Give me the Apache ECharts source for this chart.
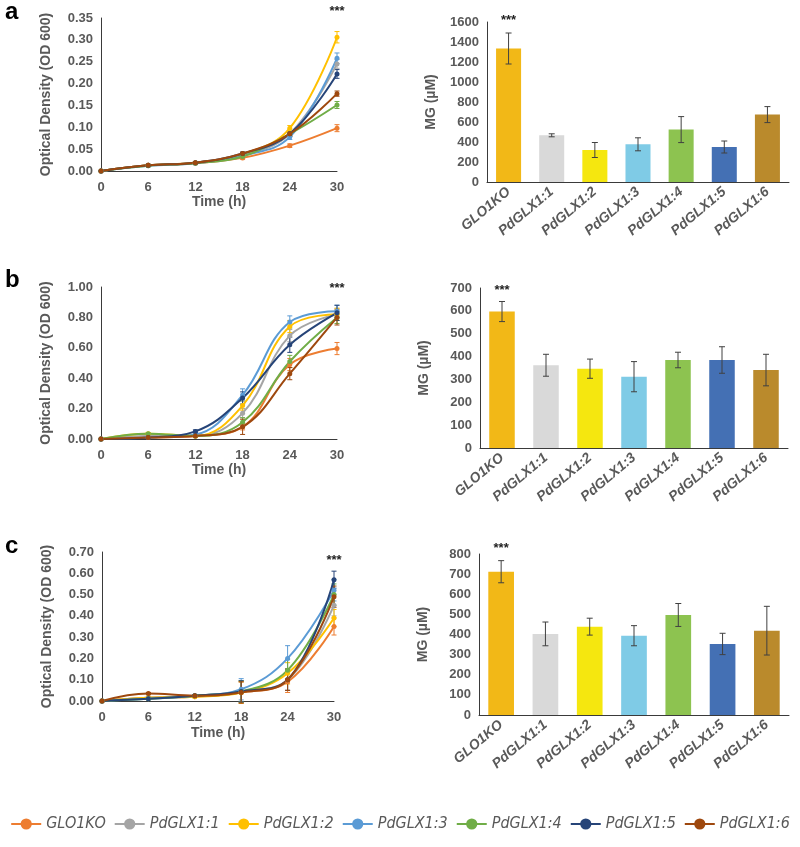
<!DOCTYPE html>
<html>
<head>
<meta charset="utf-8">
<script src="https://cdn.jsdelivr.net/npm/echarts@6/dist/echarts.min.js"></script>
<style>
  html, body { margin: 0; padding: 0; background: #fff; }
  #chart { width: 800px; height: 847px; }
</style>
</head>
<body>
<div id="chart"></div>
<script>
// x 轴时间点与菌株名
const timeLabels = ['0', '6', '12', '18', '24', '30'];
const strains = ['GLO1KO', 'PdGLX1:1', 'PdGLX1:2', 'PdGLX1:3', 'PdGLX1:4', 'PdGLX1:5', 'PdGLX1:6'];

const lineColors = ['#ED7D31', '#A5A5A5', '#FFC000', '#5B9BD5', '#70AD47', '#264478', '#9E480E'];
const barColors = ['#F2B817', '#D9D9D9', '#F5E70F', '#7FCBE6', '#8DC350', '#4470B4', '#BA8A2C'];

// panel a - OD600 (每行一个菌株)
const odA = [
  [0, 0.013, 0.018, 0.030, 0.058, 0.098],
  [0, 0.013, 0.019, 0.036, 0.085, 0.245],
  [0, 0.013, 0.019, 0.038, 0.098, 0.306],
  [0, 0.012, 0.018, 0.035, 0.078, 0.258],
  [0, 0.012, 0.018, 0.033, 0.085, 0.151],
  [0, 0.013, 0.019, 0.040, 0.085, 0.222],
  [0, 0.013, 0.019, 0.040, 0.085, 0.177],
];
const odAErr = [
  [0, 0.002, 0.002, 0.003, 0.004, 0.008],
  [0, 0.002, 0.002, 0.003, 0.005, 0.010],
  [0, 0.002, 0.002, 0.003, 0.006, 0.013],
  [0, 0.002, 0.002, 0.003, 0.006, 0.012],
  [0, 0.002, 0.002, 0.003, 0.005, 0.008],
  [0, 0.002, 0.002, 0.003, 0.005, 0.010],
  [0, 0.002, 0.002, 0.003, 0.005, 0.006],
];

// panel b
const odB = [
  [0, 0.010, 0.020, 0.080, 0.490, 0.595],
  [0, 0.020, 0.020, 0.170, 0.680, 0.820],
  [0, 0.035, 0.020, 0.220, 0.740, 0.820],
  [0, 0.010, 0.030, 0.290, 0.770, 0.840],
  [0, 0.035, 0.020, 0.110, 0.510, 0.800],
  [0, 0.010, 0.050, 0.270, 0.620, 0.830],
  [0, 0.010, 0.020, 0.080, 0.430, 0.800],
];
const odBErr = [
  [0, 0.005, 0.005, 0.020, 0.040, 0.040],
  [0, 0.005, 0.005, 0.030, 0.040, 0.040],
  [0, 0.005, 0.005, 0.030, 0.040, 0.040],
  [0, 0.005, 0.010, 0.040, 0.040, 0.040],
  [0, 0.005, 0.005, 0.030, 0.040, 0.040],
  [0, 0.005, 0.010, 0.040, 0.050, 0.050],
  [0, 0.005, 0.005, 0.050, 0.040, 0.050],
];

// panel c
const odC = [
  [0, 0.015, 0.020, 0.040, 0.090, 0.350],
  [0, 0.015, 0.025, 0.045, 0.100, 0.450],
  [0, 0.015, 0.020, 0.040, 0.130, 0.390],
  [0, 0.010, 0.025, 0.055, 0.200, 0.520],
  [0, 0.010, 0.025, 0.045, 0.145, 0.500],
  [0, 0.010, 0.025, 0.045, 0.100, 0.570],
  [0, 0.035, 0.025, 0.040, 0.100, 0.490],
];
const odCErr = [
  [0, 0.003, 0.003, 0.050, 0.050, 0.040],
  [0, 0.003, 0.003, 0.050, 0.050, 0.050],
  [0, 0.003, 0.003, 0.050, 0.050, 0.040],
  [0, 0.003, 0.003, 0.050, 0.060, 0.050],
  [0, 0.003, 0.003, 0.050, 0.050, 0.050],
  [0, 0.003, 0.003, 0.050, 0.050, 0.040],
  [0, 0.005, 0.003, 0.050, 0.050, 0.050],
];

// MG 浓度 (µM)
const mgA = [1335, 467, 320, 377, 524, 350, 674];
const mgAErr = [155, 15, 75, 65, 130, 60, 80];
const mgB = [597, 362, 347, 312, 385, 385, 341];
const mgBErr = [44, 48, 42, 66, 34, 58, 69];
const mgC = [712, 403, 439, 394, 497, 353, 419];
const mgCErr = [55, 59, 42, 50, 57, 53, 121];

const grey = '#595959';
const axisColor = '#3a3a3a';
const font = 'Arial, "Liberation Sans", sans-serif';

// 误差线
function errRender(capW, color, lw) {
  return (params, api) => {
    const x = api.value(0), y = api.value(1), e = api.value(2);
    if (!e) return null;
    const hi = api.coord([x, y + e]);
    const lo = api.coord([x, y - e]);
    const st = { stroke: color, lineWidth: lw };
    return {
      type: 'group',
      children: [
        { type: 'line', shape: { x1: hi[0], y1: hi[1], x2: lo[0], y2: lo[1] }, style: st },
        { type: 'line', shape: { x1: hi[0] - capW, y1: hi[1], x2: hi[0] + capW, y2: hi[1] }, style: st },
        { type: 'line', shape: { x1: lo[0] - capW, y1: lo[1], x2: lo[0] + capW, y2: lo[1] }, style: st },
      ],
    };
  };
}

// star: [类别索引, y 值] 位置的 *** 标注
const linePanels = [
  { grid: 0, data: odA, err: odAErr, max: 0.35, interval: 0.05, star: [5, 0.364], nameGap: 24 },
  { grid: 2, data: odB, err: odBErr, max: 1.0, interval: 0.2, star: [5, 0.99], nameGap: 23 },
  { grid: 4, data: odC, err: odCErr, max: 0.7, interval: 0.1, star: [5, 0.66], nameGap: 25 },
];
const barPanels = [
  { grid: 1, data: mgA, err: mgAErr, max: 1600, interval: 200, star: [0, 1620] },
  { grid: 3, data: mgB, err: mgBErr, max: 700, interval: 100, star: [0, 688] },
  { grid: 5, data: mgC, err: mgCErr, max: 800, interval: 100, star: [0, 826] },
];

const grids = [
  { left: 101, top: 18, width: 236, height: 153 },
  { left: 487, top: 22, width: 302, height: 160 },
  { left: 101, top: 287, width: 236, height: 152 },
  { left: 480, top: 288, width: 308, height: 160 },
  { left: 102, top: 552, width: 232, height: 149 },
  { left: 479, top: 554, width: 310, height: 161 },
];

const xAxes = [];
const yAxes = [];
const series = [];
const stars = [];

const axisLineStyle = { show: true, lineStyle: { color: axisColor, width: 1 } };

linePanels.forEach((p) => {
  const ax = xAxes.length;
  stars.push({ ax, pos: p.star });
  xAxes.push({
    type: 'category', gridIndex: p.grid, data: timeLabels, boundaryGap: false,
    name: 'Time (h)', nameLocation: 'middle', nameGap: p.nameGap,
    nameTextStyle: { color: grey, fontWeight: 'bold', fontSize: 14, fontFamily: font },
    axisLine: axisLineStyle, axisTick: { show: false },
    axisLabel: { color: grey, fontWeight: 'bold', fontSize: 13, fontFamily: font, margin: 10 },
    splitLine: { show: false },
  });
  yAxes.push({
    type: 'value', gridIndex: p.grid, min: 0, max: p.max, interval: p.interval,
    name: 'Optical Density (OD 600)', nameLocation: 'middle', nameGap: 48,
    nameTextStyle: { color: grey, fontWeight: 'bold', fontSize: 14, fontFamily: font },
    axisLine: axisLineStyle, axisTick: { show: false },
    axisLabel: { color: grey, fontWeight: 'bold', fontSize: 13, fontFamily: font, formatter: (v) => v.toFixed(2) },
    splitLine: { show: false },
  });
  strains.forEach((name, i) => {
    series.push({
      name, type: 'line', xAxisIndex: ax, yAxisIndex: ax,
      data: p.data[i], smooth: 0.4, symbol: 'circle', symbolSize: 5,
      lineStyle: { color: lineColors[i], width: 2 },
      itemStyle: { color: lineColors[i] },
      z: 3,
    });
  });
  strains.forEach((name, i) => {
    series.push({
      type: 'custom', xAxisIndex: ax, yAxisIndex: ax,
      renderItem: errRender(2.5, lineColors[i], 1),
      data: p.data[i].map((v, k) => [k, v, p.err[i][k]]),
      z: 2, silent: true,
    });
  });
});

barPanels.forEach((p) => {
  const ax = xAxes.length;
  stars.push({ ax, pos: p.star });
  xAxes.push({
    type: 'category', gridIndex: p.grid, data: strains,
    axisLine: axisLineStyle, axisTick: { show: false },
    axisLabel: {
      color: grey, fontWeight: 'bold', fontStyle: 'italic', fontSize: 14, fontFamily: font,
      rotate: 40, margin: 8, interval: 0,
    },
    splitLine: { show: false },
  });
  yAxes.push({
    type: 'value', gridIndex: p.grid, min: 0, max: p.max, interval: p.interval,
    name: 'MG (\u00b5M)', nameLocation: 'middle', nameGap: 49,
    nameTextStyle: { color: grey, fontWeight: 'bold', fontSize: 14, fontFamily: font },
    axisLine: axisLineStyle, axisTick: { show: false },
    axisLabel: { color: grey, fontWeight: 'bold', fontSize: 13, fontFamily: font, formatter: (v) => String(v) },
    splitLine: { show: false },
  });
  series.push({
    type: 'bar', xAxisIndex: ax, yAxisIndex: ax, barCategoryGap: '42%',
    data: p.data.map((v, i) => ({ value: v, itemStyle: { color: barColors[i] } })),
  });
  series.push({
    type: 'custom', xAxisIndex: ax, yAxisIndex: ax,
    renderItem: errRender(3, '#404040', 1),
    data: p.data.map((v, i) => [i, v, p.err[i]]),
    z: 4, silent: true,
  });
});

const chart = echarts.init(document.getElementById('chart'), null, { renderer: 'canvas' });
chart.setOption({
  animation: false,
  backgroundColor: '#fff',
  grid: grids,
  xAxis: xAxes,
  yAxis: yAxes,
  series,
  legend: {
    data: strains,
    left: 'center', top: 811,
    itemWidth: 30, itemHeight: 14, itemGap: 8,
    textStyle: {
      color: grey, fontStyle: 'italic', fontSize: 16,
      fontFamily: '"Liberation Sans Narrow", "DejaVu Sans Condensed", sans-serif',
    },
  },
});

// 面板字母 + 显著性标注 (*** 位置由坐标轴换算)
const graphics = [
  { type: 'text', left: 5, top: 0, style: { text: 'a', font: 'bold 24px Arial, sans-serif', fill: '#000' } },
  { type: 'text', left: 5, top: 268, style: { text: 'b', font: 'bold 24px Arial, sans-serif', fill: '#000' } },
  { type: 'text', left: 5, top: 534, style: { text: 'c', font: 'bold 24px Arial, sans-serif', fill: '#000' } },
];
stars.forEach((s) => {
  const pt = chart.convertToPixel({ xAxisIndex: s.ax, yAxisIndex: s.ax }, s.pos);
  graphics.push({
    type: 'text', x: pt[0], y: pt[1],
    style: {
      text: '***', font: 'bold 13px Arial, sans-serif', fill: '#222',
      textAlign: 'center', textVerticalAlign: 'middle',
    },
  });
});
chart.setOption({ graphic: graphics });
</script>
</body>
</html>
